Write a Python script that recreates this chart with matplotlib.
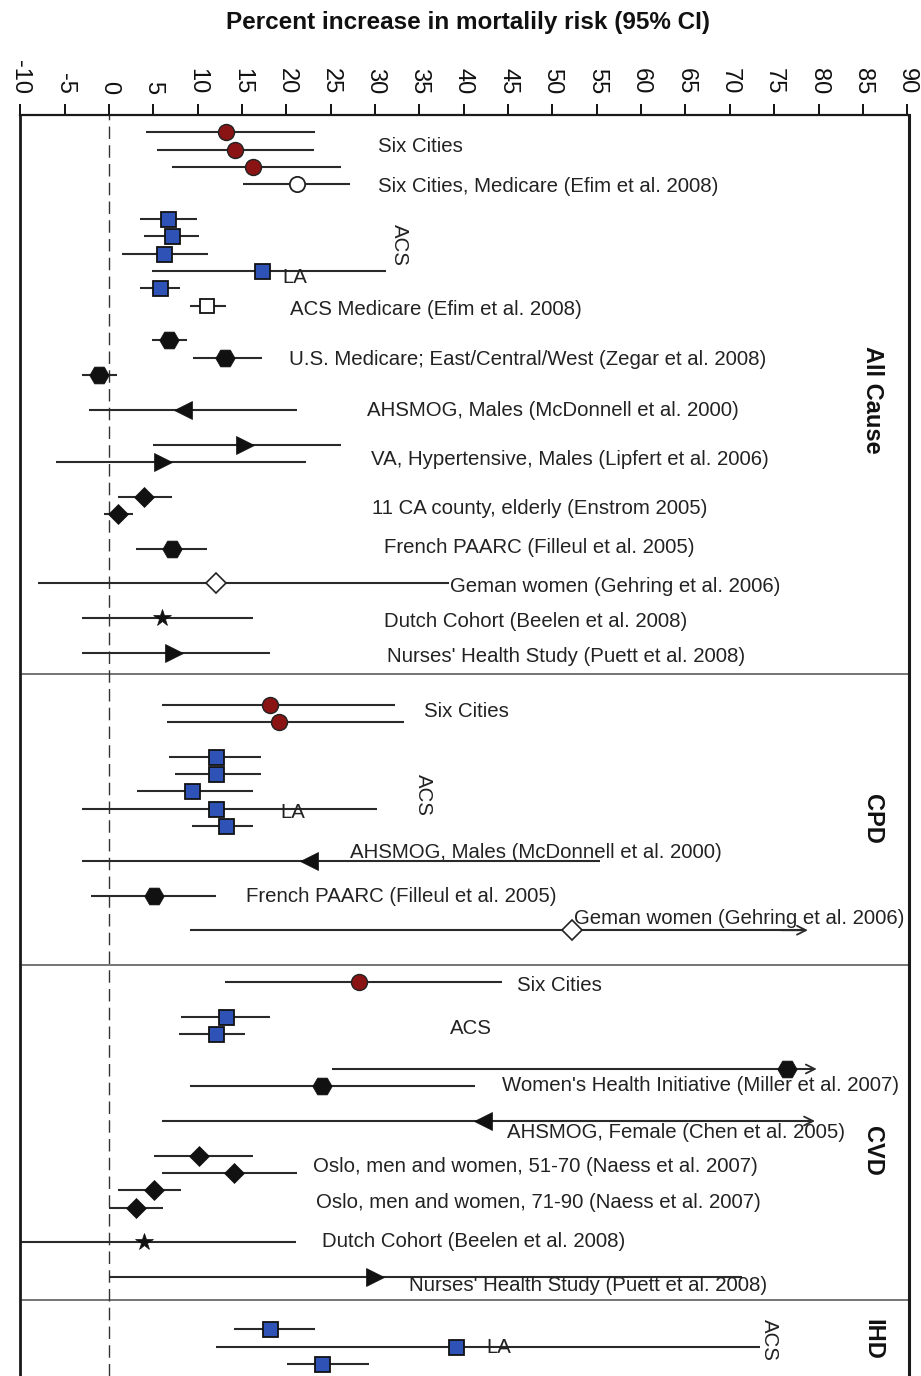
import matplotlib
matplotlib.use("Agg")
import matplotlib.pyplot as plt

plt.rcParams['font.family'] = ['Liberation Sans', 'DejaVu Sans']

# ---------------- data: percent increase in mortality risk (95% CI) ----------------
section_names = ["All Cause", "CPD", "CVD", "IHD"]

# All-cause mortality
all_est = [13.2, 14.2, 16.2, 21.2, 6.7, 7.1, 6.2, 17.2, 5.7, 11.0, 6.8, 13.1, -1.1,
           8.3, 15.3, 6.1, 4.0, 1.0, 7.1, 12.1, 6.0, 7.3]
all_lo = [4.2, 5.4, 7.1, 15.1, 3.5, 3.9, 1.5, 4.9, 3.5, 9.1, 4.8, 9.5, -3.0,
          -2.3, 5.0, -6.0, 1.0, -0.6, 3.0, -8.0, -3.0, -3.0]
all_hi = [23.2, 23.1, 26.2, 27.2, 9.9, 10.2, 11.2, 31.2, 8.0, 13.2, 8.8, 17.2, 0.9,
          21.2, 26.2, 22.2, 7.1, 2.7, 11.1, 38.3, 16.2, 18.2]
all_kind = ['six', 'six', 'six', 'six_med', 'acs', 'acs', 'acs', 'acs', 'acs', 'acs_med',
            'hex', 'hex', 'hex', 'tri_l', 'tri_r', 'tri_r', 'dia', 'dia', 'hex',
            'dia_open', 'star', 'tri_r']
all_groups = [4, 6, 3, 1, 2, 2, 1, 1, 1, 1]
all_arrow = [False] * 22

# Cardiopulmonary mortality
cpd_est = [18.2, 19.2, 12.1, 12.1, 9.4, 12.1, 13.2, 22.5, 5.1, 52.2]
cpd_lo = [6.0, 6.5, 6.8, 7.4, 3.2, -3.0, 9.4, -3.0, -2.0, 9.1]
cpd_hi = [32.2, 33.3, 17.1, 17.1, 16.2, 30.2, 16.2, 55.4, 12.1, 78.8]
cpd_kind = ['six', 'six', 'acs', 'acs', 'acs', 'acs', 'acs', 'tri_l', 'hex', 'dia_open']
cpd_groups = [2, 5, 1, 1, 1]
cpd_arrow = [False] * 9 + [True]

# Cardiovascular mortality
cvd_est = [28.2, 13.2, 12.1, 76.4, 24.0, 42.2, 10.1, 14.1, 5.1, 3.0, 4.0, 30.0]
cvd_lo = [13.1, 8.1, 7.9, 25.1, 9.1, 6.0, 5.1, 6.0, 1.0, 0.0, -10.0, 0.0]
cvd_hi = [44.3, 18.2, 15.3, 79.8, 41.3, 79.6, 16.2, 21.2, 8.1, 6.1, 21.1, 71.4]
cvd_kind = ['six', 'acs', 'acs', 'hex', 'hex', 'tri_l', 'dia', 'dia', 'dia', 'dia',
            'star', 'tri_r']
cvd_groups = [1, 2, 2, 1, 4, 1, 1]
cvd_arrow = [False, False, False, True, False, True, False, False, False, False, False, False]

# Ischemic heart disease mortality
ihd_est = [18.1, 39.1, 24.0]
ihd_lo = [14.1, 12.1, 20.1]
ihd_hi = [23.2, 73.4, 29.3]
ihd_kind = ['acs', 'acs', 'acs']
ihd_groups = [3]
ihd_arrow = [False] * 3

x_ticks = list(range(-10, 95, 5))

# study labels: (text, x start, row position, rotated)
study_labels = [
    ("Six Cities", 30.3, 1.84, False),
    ("Six Cities, Medicare (Efim et al. 2008)", 30.3, 4.15, False),
    ("ACS", 32.8, 7.49, True),
    ("LA", 19.6, 9.39, False),
    ("ACS Medicare (Efim et al. 2008)", 20.4, 11.24, False),
    ("U.S. Medicare; East/Central/West (Zegar et al. 2008)", 20.3, 14.12, False),
    ("AHSMOG, Males (McDonnell et al. 2000)", 29.1, 17.06, False),
    ("VA, Hypertensive, Males (Lipfert et al. 2006)", 29.5, 19.88, False),
    ("11 CA county, elderly (Enstrom 2005)", 29.7, 22.71, False),
    ("French PAARC (Filleul et al. 2005)", 31.0, 24.96, False),
    ("Geman women (Gehring et al. 2006)", 38.4, 27.2, False),
    ("Dutch Cohort (Beelen et al. 2008)", 31.0, 29.22, False),
    ("Nurses' Health Study (Puett et al. 2008)", 31.3, 31.24, False),
    ("Six Cities", 35.5, 34.41, False),
    ("ACS", 35.5, 39.19, True),
    ("LA", 19.3, 40.23, False),
    ("AHSMOG, Males (McDonnell et al. 2000)", 27.2, 42.54, False),
    ("French PAARC (Filleul et al. 2005)", 15.4, 45.07, False),
    ("Geman women (Gehring et al. 2006)", 52.4, 46.34, False),
    ("Six Cities", 46.0, 50.2, False),
    ("ACS", 38.4, 52.68, False),
    ("Women's Health Initiative (Miller et al. 2007)", 44.3, 55.97, False),
    ("AHSMOG, Female (Chen et al. 2005)", 44.9, 58.67, False),
    ("Oslo, men and women, 51-70 (Naess et al. 2007)", 23.0, 60.63, False),
    ("Oslo, men and women, 71-90 (Naess et al. 2007)", 23.3, 62.71, False),
    ("Dutch Cohort (Beelen et al. 2008)", 24.0, 64.96, False),
    ("Nurses' Health Study (Puett et al. 2008)", 33.8, 67.5, False),
    ("LA", 42.6, 71.08, False),
    ("ACS", 74.5, 70.6, True),
]
section_label_rows = [16.4, 40.6, 59.7, 70.6]

# ---------------- styles ----------------
RED = "#8a1414"
BLUE = "#2f52b6"
marker_styles = {
    'six':      dict(marker='o', ms=11.5, mfc=RED, mec='#222222', mew=1.0),
    'six_med':  dict(marker='o', ms=11.0, mfc='white', mec='#222222', mew=1.3),
    'acs':      dict(marker='s', ms=10.8, mfc=BLUE, mec='#111111', mew=1.3),
    'acs_med':  dict(marker='s', ms=10.0, mfc='white', mec='#111111', mew=1.3),
    'hex':      dict(marker='H', ms=14.0, mfc='#111111', mec='#111111', mew=0.5),
    'tri_l':    dict(marker='<', ms=12.5, mfc='#111111', mec='#111111', mew=0.5),
    'tri_r':    dict(marker='>', ms=12.5, mfc='#111111', mec='#111111', mew=0.5),
    'dia':      dict(marker='D', ms=9.8, mfc='#111111', mec='#111111', mew=0.5),
    'dia_open': dict(marker='D', ms=9.8, mfc='white', mec='#222222', mew=1.2),
    'star':     dict(marker='*', ms=13.0, mfc='#111111', mec='#111111', mew=0.5),
}
LINE_COLOR = "#2a2a2a"
LABEL_SIZE = 14.7

W, H = 921, 1376
fig = plt.figure(figsize=(W / 100, H / 100), dpi=100)
ax_top = 115
ax = fig.add_axes([20.3 / W, 0.0, 888.7 / W, (H - ax_top) / H])
ax.set_xlim(-10, 90.2)
ax.set_ylim(72.7, 0)

sections = [
    (all_est, all_lo, all_hi, all_kind, all_groups, all_arrow),
    (cpd_est, cpd_lo, cpd_hi, cpd_kind, cpd_groups, cpd_arrow),
    (cvd_est, cvd_lo, cvd_hi, cvd_kind, cvd_groups, cvd_arrow),
    (ihd_est, ihd_lo, ihd_hi, ihd_kind, ihd_groups, ihd_arrow),
]
divider_offsets = [1.25, 2.0, 1.3]

# row layout: consecutive rows within a block, one blank row between blocks,
# two blank rows between sections
row = 1
for s_i, (est, lo, hi, kind, groups, arrow) in enumerate(sections):
    k = 0
    for g_i, g in enumerate(groups):
        for _ in range(g):
            y = row
            if arrow[k]:
                ax.plot([lo[k], hi[k] - 0.5], [y, y], color=LINE_COLOR, lw=1.5,
                        solid_capstyle='butt', zorder=2)
                ax.annotate('', xy=(hi[k], y), xytext=(hi[k] - 3.0, y),
                            arrowprops=dict(arrowstyle='->', color=LINE_COLOR,
                                            lw=1.3, mutation_scale=16,
                                            shrinkA=0, shrinkB=0), zorder=2)
            else:
                ax.plot([lo[k], hi[k]], [y, y], color=LINE_COLOR, lw=1.5,
                        solid_capstyle='butt', zorder=2)
            ax.plot([est[k]], [y], linestyle='none', zorder=4,
                    **marker_styles[kind[k]])
            k += 1
            row += 1
        if g_i < len(groups) - 1:
            row += 1
    last = row - 1
    if s_i < len(divider_offsets):
        ax.axhline(last + divider_offsets[s_i], color='#6a6a6a', lw=1.3, zorder=1)
    row = last + 3

# zero reference line
ax.axvline(0, color='#333333', lw=1.0, linestyle=(0, (9, 4.5)), zorder=1)

for text, x, y, rot in study_labels:
    if rot:
        ax.text(x, y, text, rotation=-90, ha='center', va='center',
                fontsize=LABEL_SIZE, color='#222222', zorder=3)
    else:
        ax.text(x, y, text, ha='left', va='center', fontsize=LABEL_SIZE,
                color='#222222', zorder=3)

for name, y in zip(section_names, section_label_rows):
    ax.text(86.1, y, name, rotation=-90, ha='center', va='center', fontsize=17,
            fontweight='bold', color='#111111')

# axes frame and ticks
ax.xaxis.tick_top()
ax.set_xticks(x_ticks)
ax.set_xticklabels([str(t) for t in x_ticks])
ax.tick_params(axis='x', direction='out', length=8, width=1.4, pad=7,
               labelsize=17, labelrotation=-90, colors='#111111')
ax.set_yticks([])
ax.spines['bottom'].set_visible(False)
ax.spines['left'].set_linewidth(2.0)
ax.spines['right'].set_linewidth(2.2)
ax.spines['top'].set_linewidth(1.6)
for sp in ('left', 'right', 'top'):
    ax.spines[sp].set_color('#1a1a1a')

fig.text(468 / W, 1 - 22 / H, "Percent increase in mortalily risk (95% CI)",
         ha='center', va='center', fontsize=17.5, fontweight='bold', color='#111111')

fig.savefig("out.png", dpi=100)
